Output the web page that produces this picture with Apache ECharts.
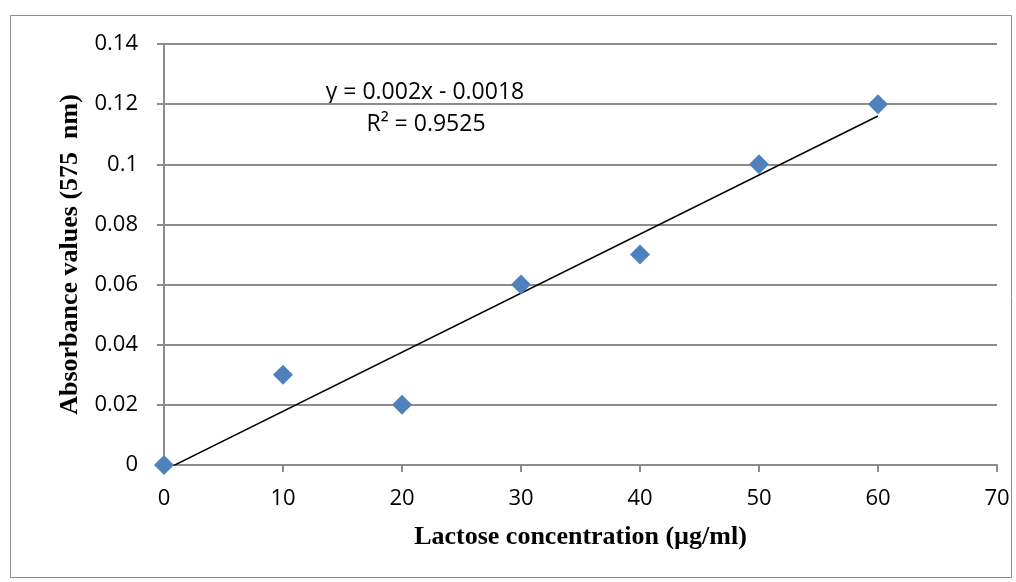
<!DOCTYPE html>
<html>
<head>
<meta charset="utf-8">
<script src="https://cdn.jsdelivr.net/npm/echarts@6/dist/echarts.min.js"></script>
<style>
  html, body { margin: 0; padding: 0; background: #fff; }
  #chart { width: 1016px; height: 582px; }
</style>
</head>
<body>
<div id="chart"></div>
<script>
// 数据
const concentration = [0, 10, 20, 30, 40, 50, 60]
const absorbance = [0, 0.03, 0.02, 0.06, 0.07, 0.1, 0.12]
const xTicks = [0, 10, 20, 30, 40, 50, 60, 70]
const yTicks = [0, 0.02, 0.04, 0.06, 0.08, 0.1, 0.12, 0.14]
const equationText = ['y = 0.002x - 0.0018', 'R² = 0.9525']

// 线性回归（趋势线）
const n = concentration.length
const mx = concentration.reduce((a, b) => a + b, 0) / n
const my = absorbance.reduce((a, b) => a + b, 0) / n
let sxy = 0, sxx = 0
concentration.forEach((x, i) => {
    sxy += (x - mx) * (absorbance[i] - my)
    sxx += (x - mx) * (x - mx)
})
const slope = sxy / sxx
const intercept = my - slope * mx
const xFirst = concentration[0], xLast = concentration[n - 1]
const trend = [[xFirst, slope * xFirst + intercept], [xLast, slope * xLast + intercept]]

const tickFont = { fontFamily: 'Open Sans', fontSize: 22, color: '#000' }
const titleFont = { fontFamily: 'Liberation Serif', fontWeight: 'bold', fontSize: 26, color: '#000' }
const gray = '#8c8c8c'

let chart = echarts.init(document.getElementById('chart'))
chart.setOption({
    animation: false,
    grid: { left: 164, right: 19, top: 44, bottom: 117 },
    graphic: [
        {
            type: 'rect',
            shape: { x: 10.5, y: 15.5, width: 1001, height: 562 },
            style: { fill: 'none', stroke: gray, lineWidth: 1 },
            z: -1
        },
        {
            type: 'text',
            x: 425, y: 92,
            style: { text: equationText[0], font: '23px "Open Sans"', fill: '#000', textAlign: 'center', textVerticalAlign: 'middle' }
        },
        {
            type: 'text',
            x: 426, y: 124,
            style: { text: equationText[1], font: '23px "Open Sans"', fill: '#000', textAlign: 'center', textVerticalAlign: 'middle' }
        }
    ],
    xAxis: {
        type: 'value',
        min: xTicks[0], max: xTicks[xTicks.length - 1], interval: 10,
        name: 'Lactose concentration (µg/ml)',
        nameLocation: 'middle', nameGap: 59,
        nameTextStyle: titleFont,
        axisLine: { show: true, lineStyle: { color: gray, width: 2 } },
        axisTick: { show: true, inside: false, length: 7, lineStyle: { color: gray, width: 2 } },
        axisLabel: { ...tickFont, margin: 23 },
        splitLine: { show: false }
    },
    yAxis: {
        type: 'value',
        min: yTicks[0], max: yTicks[yTicks.length - 1], interval: 0.02,
        name: 'Absorbance values (575  nm)',
        nameLocation: 'middle', nameGap: 81, nameRotate: 90,
        nameTextStyle: titleFont,
        axisLine: { show: true, lineStyle: { color: gray, width: 2 } },
        axisTick: { show: true, inside: false, length: 7, lineStyle: { color: gray, width: 2 } },
        axisLabel: { ...tickFont, margin: 26, formatter: v => String(+v.toFixed(2)) },
        splitLine: { show: true, lineStyle: { color: gray, width: 2 } }
    },
    series: [
        {
            name: 'trend',
            type: 'line',
            data: trend,
            clip: true,
            symbol: 'none',
            lineStyle: { color: '#000', width: 1.5 },
            z: 2
        },
        {
            name: 'absorbance',
            type: 'scatter',
            data: concentration.map((x, i) => [x, absorbance[i]]),
            symbol: 'diamond',
            symbolSize: 20,
            clip: false,
            itemStyle: { color: '#4f81bd', opacity: 1 },
            z: 3
        }
    ]
})
</script>
</body>
</html>
